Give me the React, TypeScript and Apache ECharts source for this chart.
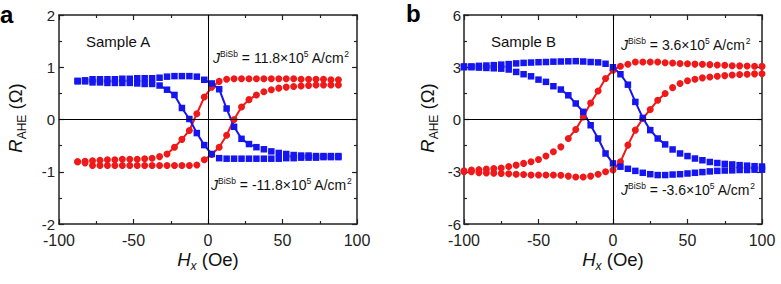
import React, { useEffect, useRef } from "react";
import * as echarts from "echarts";

// ---------- data ----------
const xA = [-87.5, -82.5, -77.5, -72.5, -67.5, -62.5, -57.5, -52.5, -47.5, -42.5, -37.5, -32.5, -27.5, -22.5, -17.5, -12.5, -7.5, -2.5, 2.5, 7.5, 12.5, 17.5, 22.5, 27.5, 32.5, 37.5, 42.5, 47.5, 52.5, 57.5, 62.5, 67.5, 72.5, 77.5, 82.5, 87.5];
const blueA1 = [0.74, 0.75, 0.77, 0.77, 0.77, 0.77, 0.78, 0.78, 0.79, 0.79, 0.79, 0.8, 0.82, 0.83, 0.83, 0.83, 0.82, 0.76, 0.69, 0.58, 0.21, -0.14, -0.37, -0.47, -0.53, -0.57, -0.61, -0.64, -0.66, -0.68, -0.69, -0.69, -0.7, -0.7, -0.7, -0.7];
const blueA2 = [0.73, 0.73, 0.71, 0.71, 0.7, 0.7, 0.7, 0.7, 0.69, 0.68, 0.68, 0.65, 0.57, 0.47, 0.22, 0.01, -0.26, -0.49, -0.66, -0.74, -0.75, -0.75, -0.75, -0.75, -0.75, -0.75, -0.75, -0.75, -0.74, -0.74, -0.73, -0.73, -0.73, -0.72, -0.72, -0.72];
const redA1 = [-0.81, -0.8, -0.79, -0.78, -0.77, -0.77, -0.76, -0.76, -0.76, -0.75, -0.74, -0.71, -0.66, -0.53, -0.38, -0.21, 0.11, 0.43, 0.62, 0.73, 0.77, 0.78, 0.78, 0.78, 0.78, 0.78, 0.78, 0.78, 0.78, 0.78, 0.77, 0.77, 0.77, 0.77, 0.76, 0.76];
const redA2 = [-0.81, -0.83, -0.88, -0.88, -0.88, -0.88, -0.88, -0.88, -0.88, -0.88, -0.88, -0.88, -0.88, -0.88, -0.88, -0.88, -0.87, -0.77, -0.67, -0.53, -0.3, 0.0, 0.24, 0.38, 0.47, 0.53, 0.57, 0.6, 0.62, 0.63, 0.64, 0.65, 0.66, 0.66, 0.66, 0.66];

const xB = [-100, -95, -90, -85, -80, -75, -70, -65, -60, -55, -50, -45, -40, -35, -30, -25, -20, -15, -10, -5, 0, 5, 10, 15, 20, 25, 30, 35, 40, 45, 50, 55, 60, 65, 70, 75, 80, 85, 90, 95, 100];
const blueB1 = [3.05, 3.05, 3.08, 3.1, 3.12, 3.15, 3.18, 3.22, 3.25, 3.27, 3.29, 3.3, 3.32, 3.33, 3.34, 3.35, 3.33, 3.3, 3.28, 3.2, 3.0, 2.6, 2.0, 1.01, 0.09, -0.61, -1.09, -1.43, -1.72, -1.95, -2.1, -2.24, -2.34, -2.44, -2.5, -2.55, -2.58, -2.62, -2.65, -2.68, -2.7];
const blueB2 = [3.0, 3.0, 2.98, 2.96, 2.94, 2.92, 2.87, 2.73, 2.6, 2.48, 2.29, 2.16, 1.91, 1.72, 1.39, 0.92, 0.44, -0.33, -1.09, -1.95, -2.52, -2.71, -2.83, -2.95, -3.06, -3.14, -3.19, -3.19, -3.16, -3.14, -3.1, -3.06, -3.02, -2.98, -2.95, -2.93, -2.92, -2.9, -2.9, -2.88, -2.88];
const redB1 = [-2.95, -2.9, -2.88, -2.85, -2.82, -2.78, -2.7, -2.62, -2.52, -2.43, -2.3, -2.1, -1.85, -1.57, -1.09, -0.57, 0.15, 0.95, 1.64, 2.35, 2.83, 3.06, 3.17, 3.3, 3.3, 3.3, 3.3, 3.26, 3.24, 3.21, 3.2, 3.18, 3.17, 3.15, 3.13, 3.11, 3.09, 3.08, 3.07, 3.06, 3.05];
const redB2 = [-3.0, -3.0, -3.05, -3.07, -3.08, -3.1, -3.12, -3.14, -3.16, -3.19, -3.19, -3.19, -3.19, -3.2, -3.25, -3.3, -3.3, -3.25, -3.14, -3.0, -2.9, -2.43, -1.47, -0.61, 0.06, 0.57, 1.11, 1.49, 1.83, 2.07, 2.22, 2.31, 2.39, 2.44, 2.48, 2.52, 2.56, 2.58, 2.6, 2.62, 2.63];

// field range (Oe) over which each branch is joined by a line
const lineRangeA = { blue1: [-2.5, 32.5], blue2: [-32.5, 2.5], red1: [-27.5, 7.5], red2: [-2.5, 32.5] };
const lineRangeB = { blue1: [0, 35], blue2: [-35, 0], red1: [-30, 5], red2: [0, 35] };

const xTickRange = [-100, 100, 50];
const yTickRangeA = [-2, 2, 1];
const yTickRangeB = [-6, 6, 3];

const panelLetters = ["a", "b"];
const sampleNames = ["Sample A", "Sample B"];
const currentA = ["11.8", "-11.8"];
const currentB = ["3.6", "-3.6"];

// ---------- styling ----------
const FONT = '"Liberation Sans", Arial, Helvetica, sans-serif';
const RED = "#f01818";
const BLUE = "#1515f0";
const AX = "#222";

type Piece = { t: string; size: number; italic?: boolean; bold?: boolean; dy?: number };

function measure(ctx: CanvasRenderingContext2D, p: Piece) {
  ctx.font = `${p.italic ? "italic " : ""}${p.bold ? "bold " : ""}${p.size}px ${FONT}`;
  return ctx.measureText(p.t).width;
}

function layout(ctx: CanvasRenderingContext2D, pieces: Piece[], x0: number, baseline: number, color = "#111") {
  let x = x0;
  const els: any[] = [];
  for (const p of pieces) {
    const w = measure(ctx, p);
    const yMid = baseline + (p.dy || 0) - 0.3465 * p.size;
    els.push({
      type: "text",
      x,
      y: yMid,
      silent: true,
      style: {
        text: p.t,
        fontSize: p.size,
        fontFamily: FONT,
        fontStyle: p.italic ? "italic" : "normal",
        fontWeight: p.bold ? "bold" : "normal",
        fill: color,
        align: "left",
        verticalAlign: "middle",
        textAlign: "left",
        textVerticalAlign: "middle",
      },
    });
    x += w;
  }
  return { els, width: x - x0 };
}

function totalWidth(ctx: CanvasRenderingContext2D, pieces: Piece[]) {
  return pieces.reduce((s, p) => s + measure(ctx, p), 0);
}

function annot(val: string): Piece[] {
  return [
    { t: "J", size: 14, italic: true },
    { t: "BiSb", size: 8.5, dy: -6 },
    { t: ` = ${val}×10`, size: 14 },
    { t: "5", size: 8.5, dy: -6 },
    { t: " A/cm", size: 14 },
    { t: "2", size: 8.5, dy: -6 },
  ];
}

const xTitle: Piece[] = [
  { t: "H", size: 18.5, italic: true },
  { t: "x", size: 12, italic: true, dy: 4.5 },
  { t: " (Oe)", size: 18.5 },
];
const yTitle: Piece[] = [
  { t: "R", size: 18.5, italic: true },
  { t: "AHE", size: 12, dy: 4.5 },
  { t: " (Ω)", size: 18.5 },
];

function pairs(xs: number[], ys: number[]) {
  return xs.map((x, i) => [x, ys[i]]);
}
function linePairs(xs: number[], ys: number[], r: number[]) {
  return xs.map((x, i) => [x, ys[i]]).filter((d) => d[0] >= r[0] - 1e-9 && d[0] <= r[1] + 1e-9);
}

function xAxisDef(gridIndex: number, position: string, showLabel: boolean) {
  return {
    type: "value",
    gridIndex,
    position,
    min: xTickRange[0],
    max: xTickRange[1],
    interval: xTickRange[2],
    axisLine: { show: true, onZero: false, lineStyle: { color: AX, width: 1.5 } },
    axisTick: { show: true, inside: true, length: 5, lineStyle: { color: AX, width: 1.2 } },
    minorTick: { show: true, splitNumber: 2, length: 3, lineStyle: { color: AX, width: 1.2 } },
    splitLine: { show: false },
    minorSplitLine: { show: false },
    axisLabel: { show: showLabel, fontSize: 16, fontFamily: FONT, color: AX, margin: 8 },
  };
}
function yAxisDef(gridIndex: number, position: string, showLabel: boolean, r: number[], margin: number) {
  return {
    type: "value",
    gridIndex,
    position,
    min: r[0],
    max: r[1],
    interval: r[2],
    axisLine: { show: true, onZero: false, lineStyle: { color: AX, width: 1.5 } },
    axisTick: { show: true, inside: true, length: 5, lineStyle: { color: AX, width: 1.2 } },
    minorTick: { show: true, splitNumber: 2, length: 3, lineStyle: { color: AX, width: 1.2 } },
    splitLine: { show: false },
    minorSplitLine: { show: false },
    axisLabel: { show: showLabel, fontSize: 15, fontFamily: FONT, color: AX, margin },
  };
}

function panelSeries(xi: number, yi: number, xs: number[], b1: number[], b2: number[], r1: number[], r2: number[], lr: any) {
  const lineS = (data: any[], color: string, withMark: boolean) => {
    const s: any = {
      type: "line",
      xAxisIndex: xi,
      yAxisIndex: yi,
      data,
      symbol: "none",
      showSymbol: false,
      silent: true,
      lineStyle: { color, width: 2 },
      itemStyle: { color },
      z: 2,
    };
    if (withMark) {
      s.markLine = {
        silent: true,
        symbol: ["none", "none"],
        label: { show: false },
        lineStyle: { color: "#000", width: 1, type: "solid" },
        emphasis: { disabled: true },
        data: [{ xAxis: 0 }, { yAxis: 0 }],
      };
    }
    return s;
  };
  const scat = (data: any[], color: string, symbol: string, size: number) => ({
    type: "scatter",
    xAxisIndex: xi,
    yAxisIndex: yi,
    data,
    symbol,
    symbolSize: size,
    silent: true,
    itemStyle: { color, opacity: 1 },
    z: 3,
  });
  return [
    lineS(linePairs(xs, r1, lr.red1), RED, true),
    lineS(linePairs(xs, r2, lr.red2), RED, false),
    scat(pairs(xs, r1), RED, "circle", 7),
    scat(pairs(xs, r2), RED, "circle", 7),
    lineS(linePairs(xs, b1, lr.blue1), BLUE, false),
    lineS(linePairs(xs, b2, lr.blue2), BLUE, false),
    scat(pairs(xs, b1), BLUE, "rect", 6.5),
    scat(pairs(xs, b2), BLUE, "rect", 6.5),
  ];
}

export default function App() {
  const ref = useRef<HTMLDivElement>(null);
  useEffect(() => {
    if (!ref.current) return;
    const chart = echarts.init(ref.current, undefined, { renderer: "svg" });
    const ctx = document.createElement("canvas").getContext("2d")!;

    const grids = [
      { left: 59, top: 15, width: 298, height: 209 },
      { left: 464, top: 15, width: 298, height: 209 },
    ];

    const graphics: any[] = [];
    const add = (els: any[]) => graphics.push(...els);

    // panel letters
    add(layout(ctx, [{ t: panelLetters[0], size: 24, bold: true }], 0, 23, "#000").els);
    add(layout(ctx, [{ t: panelLetters[1], size: 24, bold: true }], 406, 22, "#000").els);
    // sample names
    add(layout(ctx, [{ t: sampleNames[0], size: 15 }], 86, 47).els);
    add(layout(ctx, [{ t: sampleNames[1], size: 15 }], 491, 47).els);
    // current density annotations
    add(layout(ctx, annot(currentA[0]), 213, 63).els);
    add(layout(ctx, annot(currentA[1]), 211, 190).els);
    add(layout(ctx, annot(currentB[0]), 621, 50).els);
    add(layout(ctx, annot(currentB[1]), 621, 195).els);
    // x titles
    const wx = totalWidth(ctx, xTitle);
    add(layout(ctx, xTitle, 208 - wx / 2, 266).els);
    add(layout(ctx, xTitle, 613 - wx / 2, 266).els);
    // y titles (rotated)
    const wy = totalWidth(ctx, yTitle);
    const yt1 = layout(ctx, yTitle, -wy / 2, 0).els;
    const yt2 = layout(ctx, yTitle, -wy / 2, 0).els;
    graphics.push({ type: "group", x: 22, y: 118, rotation: Math.PI / 2, children: yt1 });
    graphics.push({ type: "group", x: 434, y: 118, rotation: Math.PI / 2, children: yt2 });

    const option: any = {
      animation: false,
      backgroundColor: "#fff",
      textStyle: { fontFamily: FONT },
      grid: grids.map((g) => ({ ...g, containLabel: false, outerBoundsMode: "none" })),
      xAxis: [
        xAxisDef(0, "bottom", true),
        xAxisDef(0, "top", false),
        xAxisDef(1, "bottom", true),
        xAxisDef(1, "top", false),
      ],
      yAxis: [
        yAxisDef(0, "left", true, yTickRangeA, 4),
        yAxisDef(0, "right", false, yTickRangeA, 4),
        yAxisDef(1, "left", true, yTickRangeB, 3),
        yAxisDef(1, "right", false, yTickRangeB, 3),
      ],
      series: [
        ...panelSeries(0, 0, xA, blueA1, blueA2, redA1, redA2, lineRangeA),
        ...panelSeries(2, 2, xB, blueB1, blueB2, redB1, redB2, lineRangeB),
      ],
      graphic: graphics,
    };
    chart.setOption(option);
    return () => chart.dispose();
  }, []);
  return <div ref={ref} style={{ position: "fixed", left: 0, top: 0, width: 781, height: 284 }} />;
}
